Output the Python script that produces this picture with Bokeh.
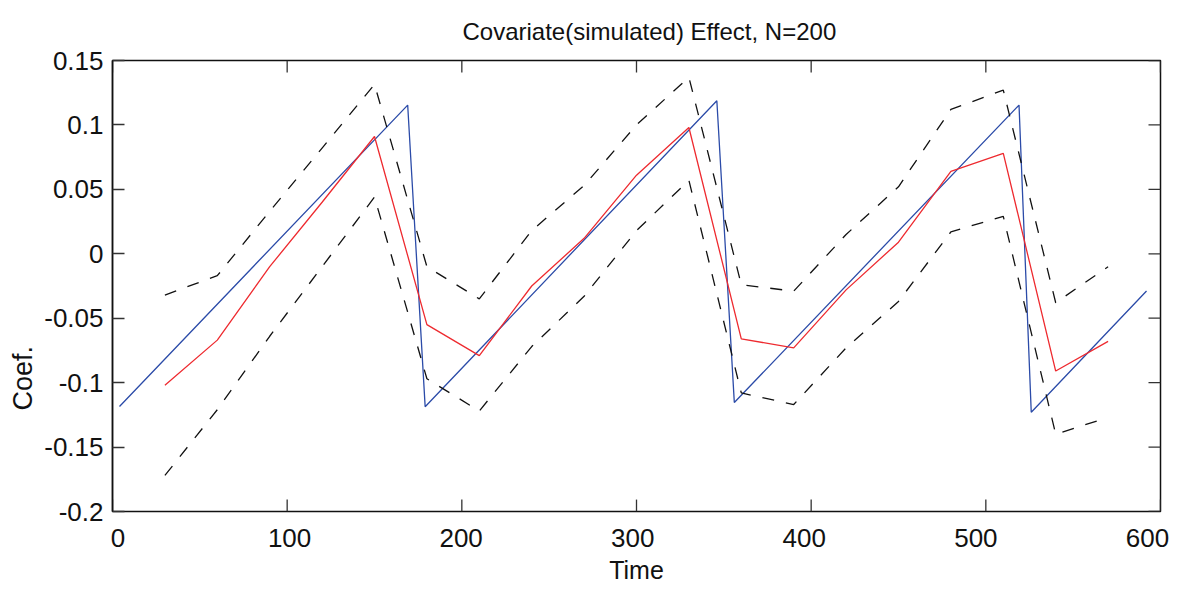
from bokeh.plotting import figure
from bokeh.models import (LinearAxis, FixedTicker, CustomJSTickFormatter, Range1d,
                          Title)
from bokeh.embed import file_html
from bokeh.resources import INLINE

# ---- data ----
time_true = [4, 169, 179, 346, 356, 519, 526, 592]
coef_true = [-0.1185, 0.1154, -0.1187, 0.1188, -0.1154, 0.1154, -0.1230, -0.0289]

time_est = [30, 60, 90, 120, 150, 180, 210, 240, 270, 300,
            330, 360, 390, 420, 450, 480, 510, 540, 570]
coef_est = [-0.102, -0.067, -0.010, 0.040, 0.091, -0.055, -0.079, -0.025, 0.012, 0.061,
            0.098, -0.066, -0.073, -0.028, 0.009, 0.064, 0.078, -0.091, -0.068]
coef_upper = [-0.032, -0.017, 0.033, 0.082, 0.1315, -0.010, -0.035, 0.018, 0.053, 0.100,
              0.137, -0.024, -0.029, 0.015, 0.052, 0.112, 0.127, -0.038, -0.010]
coef_lower = [-0.172, -0.121, -0.064, -0.010, 0.044, -0.097, -0.122, -0.072, -0.033, 0.018,
              0.057, -0.108, -0.117, -0.073, -0.037, 0.017, 0.029, -0.140, -0.127]

x_ticks = [0, 100, 200, 300, 400, 500, 600]
y_ticks = [-0.2, -0.15, -0.1, -0.05, 0, 0.05, 0.1, 0.15]

title_text = "Covariate(simulated) Effect, N=200"
x_label = "Time"
y_label = "Coef."

# ---- layout / style ----
FONT = "Liberation Sans"
TXT = "#111111"
X_MIN, X_MAX = 0, 600
Y_MIN, Y_MAX = -0.2, 0.15
W, H = 1179, 593
B_LEFT, B_RIGHT, B_TOP, B_BOTTOM = 112, 19, 57, 82
FRAME_W = W - B_LEFT - B_RIGHT
FRAME_H = H - B_TOP - B_BOTTOM
TICK_PX = 12
TICK_COLOR = "#333333"

p = figure(width=W, height=H,
           x_range=Range1d(X_MIN, X_MAX), y_range=Range1d(Y_MIN, Y_MAX),
           x_axis_location=None, title=None,
           output_backend="svg", toolbar_location=None,
           min_border_left=B_LEFT, min_border_right=B_RIGHT,
           min_border_top=B_TOP, min_border_bottom=B_BOTTOM)

p.add_layout(Title(text=title_text, align="left", offset=350,
                   vertical_align="bottom", standoff=31,
                   text_font=FONT, text_font_size="24px",
                   text_font_style="normal", text_color=TXT), "above")

p.xgrid.visible = False
p.ygrid.visible = False
p.outline_line_color = TXT
p.outline_line_width = 1.5
p.background_fill_color = "white"
p.border_fill_color = "white"

# bottom labels: the MATLAB export spaces them slightly tighter than the
# ticks; a label-only axis on its own range reproduces that
p.extra_x_ranges = {"lbl": Range1d(-3.2, 607.6)}
xax = LinearAxis(x_range_name="lbl")
xax.ticker = FixedTicker(ticks=x_ticks)
xax.minor_tick_line_color = None
xax.major_tick_line_color = None
xax.major_tick_in = 0
xax.major_tick_out = 0
xax.axis_line_color = None
xax.major_label_standoff = 17
xax.major_label_text_font = FONT
xax.major_label_text_font_size = "26px"
xax.major_label_text_color = TXT
xax.axis_label = x_label
xax.axis_label_text_font = FONT
xax.axis_label_text_font_size = "25px"
xax.axis_label_text_font_style = "normal"
xax.axis_label_text_color = TXT
xax.axis_label_standoff = 6
p.add_layout(xax, "below")

yax = p.yaxis[0]
yax.ticker = FixedTicker(ticks=y_ticks)
yax.formatter = CustomJSTickFormatter(code="""
var s = tick.toFixed(2);
if (s.indexOf('.') >= 0) { s = s.replace(/0+$/, '').replace(/\\.$/, ''); }
if (s == '-0') { s = '0'; }
return s;
""")
yax.minor_tick_line_color = None
yax.major_tick_in = TICK_PX
yax.major_tick_out = 0
yax.major_tick_line_color = TICK_COLOR
yax.major_tick_line_width = 1.3
yax.axis_line_color = TXT
yax.axis_line_width = 1.5
yax.major_label_standoff = 9
yax.major_label_text_font = FONT
yax.major_label_text_font_size = "26px"
yax.major_label_text_color = TXT

# y label sits low on the left side, as in the reference
p.add_layout(Title(text=y_label, align="left", offset=101, standoff=8,
                   text_font=FONT, text_font_size="27px",
                   text_font_style="normal", text_color=TXT), "left")

# inward ticks on bottom, top and right edges (box on)
tlx = TICK_PX * (X_MAX - X_MIN) / FRAME_W
tly = TICK_PX * (Y_MAX - Y_MIN) / FRAME_H
nx, ny = len(x_ticks), len(y_ticks)
p.segment(x0=x_ticks, y0=[Y_MIN] * nx, x1=x_ticks, y1=[Y_MIN + tly] * nx,
          line_color=TICK_COLOR, line_width=1.3)
p.segment(x0=x_ticks, y0=[Y_MAX] * nx, x1=x_ticks, y1=[Y_MAX - tly] * nx,
          line_color=TICK_COLOR, line_width=1.3)
p.segment(x0=[X_MAX] * ny, y0=y_ticks, x1=[X_MAX - tlx] * ny, y1=y_ticks,
          line_color=TICK_COLOR, line_width=1.3)

# ---- marks ----
p.line(time_true, coef_true, line_color="#2b4ba8", line_width=1.3)
p.line(time_est, coef_est, line_color="#ee2a2f", line_width=1.3)
p.line(time_est, coef_upper, line_color=TXT, line_width=1.3, line_dash="12 12")
p.line(time_est, coef_lower, line_color=TXT, line_width=1.3, line_dash="12 12")

open("out.html", "w").write(file_html(p, INLINE))
